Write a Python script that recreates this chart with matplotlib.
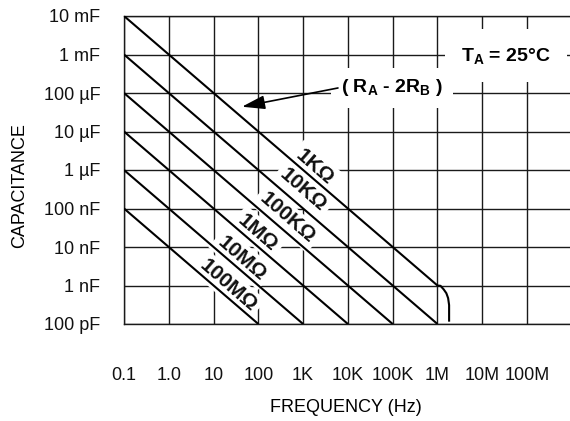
import numpy as np
import matplotlib
matplotlib.use('Agg')
import matplotlib.pyplot as plt

plt.rcParams['font.family'] = ['Liberation Sans', 'DejaVu Sans']
plt.rcParams['mathtext.default'] = 'regular'

# Axis ticks (decades)
freq_ticks = [0.1, 1, 10, 100, 1e3, 1e4, 1e5, 1e6, 1e7, 1e8]
freq_labels = ['0.1', '1.0', '10', '100', '1K', '10K', '100K', '1M', '10M', '100M']
cap_ticks = [1e-2, 1e-3, 1e-4, 1e-5, 1e-6, 1e-7, 1e-8, 1e-9, 1e-10]
cap_labels = ['10 mF', '1 mF', '100 \u00b5F', '10 \u00b5F', '1 \u00b5F',
              '100 nF', '10 nF', '1 nF', '100 pF']

# Resistance lines (RA + 2RB): frequency / capacitance points
res_labels = ['1K\u03a9', '10K\u03a9', '100K\u03a9', '1M\u03a9', '10M\u03a9', '100M\u03a9']
line_freq = [
    [0.1, 1e6, 1.17e6, 1.38e6, 1.58e6, 1.73e6, 1.82e6, 1.82e6],
    [0.1, 1e6],
    [0.1, 1e5],
    [0.1, 1e4],
    [0.1, 1e3],
    [0.1, 1e2],
]
line_cap = [
    [1e-2, 1e-9, 9.8e-10, 7.9e-10, 6.3e-10, 4.7e-10, 3.1e-10, 1.15e-10],
    [1e-3, 1e-10],
    [1e-4, 1e-10],
    [1e-5, 1e-10],
    [1e-6, 1e-10],
    [1e-7, 1e-10],
]
# label anchor points (freq, cap)
label_freq = [1.82e3, 1.0e3, 4.4e2, 98, 43, 21]
label_cap = [1.2e-6, 3.0e-7, 5.6e-8, 2.3e-8, 5.1e-9, 1.02e-9]

fig = plt.figure(figsize=(5.7, 4.21), dpi=100)
ax = fig.add_axes([124 / 570, 1 - 324 / 421, 447.8 / 570, 308 / 421])
ax.set_xscale('log')
ax.set_yscale('log')
ax.set_xlim(0.1, 1e9)
ax.set_ylim(1e-10, 1e-2)

ax.set_xticks(freq_ticks)
ax.set_xticklabels(freq_labels)
ax.set_yticks(cap_ticks)
ax.set_yticklabels(cap_labels)
ax.minorticks_off()
ax.tick_params(axis='both', length=0, labelsize=13, colors='#111111')
ax.tick_params(axis='x', pad=31)
ax.tick_params(axis='y', pad=17)

ax.set_axisbelow(True)
ax.grid(True, which='major', color='#1a1a1a', lw=1.0)
for side in ['left', 'bottom', 'top']:
    ax.spines[side].set_color('#1a1a1a')
    ax.spines[side].set_linewidth(1.0)
ax.spines['right'].set_visible(False)

for fr, cp in zip(line_freq, line_cap):
    ax.plot(fr, cp, color='black', lw=1.5, zorder=5, solid_capstyle='butt')

for lab, fx, cy in zip(res_labels, label_freq, label_cap):
    ax.text(fx, cy, lab, rotation=-41, ha='center', va='center',
            fontsize=15, fontweight='bold', zorder=3, color='#111111',
            bbox=dict(boxstyle='square,pad=0.2', fc='white', ec='none'))

ax.text(3.4e7, 9.3e-4, 'T$_{A}$ = 25\u00b0C', ha='center', va='center',
        fontsize=14, fontweight='bold', zorder=3,
        bbox=dict(boxstyle='square,pad=0.85', fc='white', ec='none'))

ax.text(9.5e4, 1.35e-4, '( R$_{A}$ - 2R$_{B}$ )', ha='center', va='center',
        fontsize=14, fontweight='bold', zorder=3,
        bbox=dict(boxstyle='square,pad=0.5', fc='white', ec='none'))
ax.annotate('', xy=(43, 4.4e-5), xytext=(6.0e3, 1.35e-4),
            arrowprops=dict(arrowstyle='-|>,head_length=1.0,head_width=0.3',
                            color='black', lw=1.2, mutation_scale=14,
                            shrinkA=0, shrinkB=0),
            zorder=6)

ax.set_xlabel('FREQUENCY (Hz)', fontsize=13)
ax.set_ylabel('CAPACITANCE', fontsize=13)
ax.xaxis.set_label_coords((346 - 124) / 447.8, -(399 - 324) / 308)
ax.yaxis.set_label_coords(-(124 - 28) / 447.8, (324 - 186) / 308)

fig.savefig('out.png', dpi=100)
